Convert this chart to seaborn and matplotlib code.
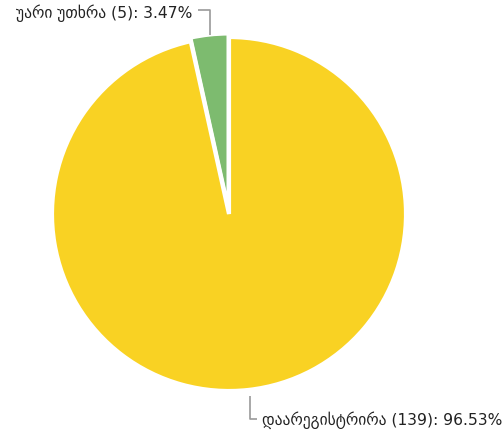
import matplotlib
matplotlib.use("Agg")
import matplotlib.pyplot as plt
import seaborn as sns

# Registration outcome counts
labels = ["უარი უთხრა", "დაარეგისტრირა"]
counts = [5, 139]
percents = [3.47, 96.53]
colors = ["#7dbb6f", "#f9d223"]

sns.set_theme(style="white")
plt.rcParams["font.family"] = ["DejaVu Sans"]
palette = sns.color_palette(colors)

W, H = 503, 434
fig = plt.figure(figsize=(W / 100, H / 100), dpi=100)
ax = fig.add_axes([0, 0, 1, 1])

cx, cy, r = 229, 214, 177  # pie centre and radius in pixels

wedges, _ = ax.pie(
    counts,
    colors=palette,
    startangle=90,
    counterclock=True,
    explode=[0.02, 0],
    radius=1.0,
    wedgeprops=dict(edgecolor="white", linewidth=3),
)
ax.set_aspect("auto")
ax.set_xlim(-cx / r, (W - cx) / r)
ax.set_ylim(-(H - cy) / r, cy / r)
ax.axis("off")


def px(x, y):
    return ((x - cx) / r, (cy - y) / r)


line_kw = dict(color="#9a9a9a", lw=1.2, solid_capstyle="butt")
text_kw = dict(fontsize=11.2, color="#222222", va="center")

# Small slice label (top-left)
pts = [px(210, 35), px(210, 10), px(198, 10)]
ax.plot([p[0] for p in pts], [p[1] for p in pts], **line_kw)
ax.text(*px(192, 13), f"{labels[0]} ({counts[0]}): {percents[0]:.2f}%", ha="right", **text_kw)

# Large slice label (bottom-right)
pts = [px(250, 396), px(250, 419), px(257, 419)]
ax.plot([p[0] for p in pts], [p[1] for p in pts], **line_kw)
ax.text(*px(262, 420), f"{labels[1]} ({counts[1]}): {percents[1]:.2f}%", ha="left", **text_kw)

fig.savefig("out.png", dpi=100)
